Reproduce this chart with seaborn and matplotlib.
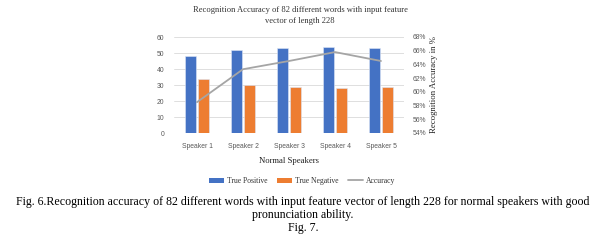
import numpy as np
import pandas as pd
import matplotlib
matplotlib.use("Agg")
import matplotlib.pyplot as plt
import seaborn as sns
from matplotlib.patches import Patch
from matplotlib.lines import Line2D
from matplotlib.ticker import PercentFormatter

speakers = ["Speaker 1", "Speaker 2", "Speaker 3", "Speaker 4", "Speaker 5"]
true_positive = [48, 52, 53, 54, 53]
true_negative = [34, 30, 29, 28, 29]
accuracy = [58.5, 63.3, 64.5, 65.8, 64.5]
left_ticks = [0, 10, 20, 30, 40, 50, 60]
right_ticks = [54, 56, 58, 60, 62, 64, 66, 68]

BLUE = "#4472C4"
ORANGE = "#ED7D31"
GRAY = "#A5A5A5"
SERIF = "Liberation Serif"
SANS = "Liberation Sans"

sns.set_theme(style="white")
plt.rcParams["font.family"] = [SANS, "DejaVu Sans"]

df = pd.DataFrame({
    "Speaker": speakers * 2,
    "Count": true_positive + true_negative,
    "Series": ["True Positive"] * len(speakers) + ["True Negative"] * len(speakers),
})

fig = plt.figure(figsize=(6.06, 2.40), dpi=100)
ax = fig.add_axes([174 / 606, 1 - 133 / 240, 230 / 606, 96 / 240])

sns.barplot(data=df, x="Speaker", y="Count", hue="Series",
            palette=[BLUE, ORANGE], saturation=1, width=0.57, gap=0.15,
            edgecolor="#DDE6F5", linewidth=0.4, ax=ax, legend=False, zorder=3)

ax.set_ylim(0, 60)
ax.set_yticks(left_ticks)
ax.set_xlim(-0.5, len(speakers) - 0.5)
ax.grid(axis="y", color="#D9D9D9", linewidth=0.6, zorder=0)
ax.set_axisbelow(True)
for s in ax.spines.values():
    s.set_visible(False)
ax.tick_params(axis="both", length=0, labelsize=4.9, colors="#595959")
ax.tick_params(axis="y", pad=7)
ax.tick_params(axis="x", pad=7.5)
ax.set_ylabel("")
ax.set_xlabel("Normal Speakers", fontfamily=SERIF, fontsize=6.2, labelpad=5, color="#222222")

ax2 = ax.twinx()
sns.lineplot(x=np.arange(len(speakers)), y=accuracy, ax=ax2, color=GRAY,
             linewidth=1.3, zorder=4)
ax2.set_ylim(54, 68)
ax2.set_yticks(right_ticks)
ax2.yaxis.set_major_formatter(PercentFormatter(decimals=0))
for s in ax2.spines.values():
    s.set_visible(False)
ax2.tick_params(axis="y", length=0, labelsize=4.9, colors="#595959", pad=6)
ax2.set_ylabel("Recognition Accuracy in %", fontfamily=SERIF, fontsize=6.3,
               color="#222222", labelpad=3)
ax2.grid(False)

# Title
fig.text(300 / 606, 1 - 10 / 240, "Recognition Accuracy of 82 different words with input feature",
         ha="center", va="center", fontfamily=SERIF, fontsize=6.1, color="#333333")
fig.text(300 / 606, 1 - 21 / 240, "vector of length 228",
         ha="center", va="center", fontfamily=SERIF, fontsize=6.1, color="#333333")

# Legend
handles = [Patch(facecolor=BLUE, edgecolor="none"),
           Patch(facecolor=ORANGE, edgecolor="none"),
           Line2D([0], [0], color=GRAY, linewidth=1.3)]
labels = ["True Positive", "True Negative", "Accuracy"]
leg = fig.legend(handles, labels, loc="center", bbox_to_anchor=(302 / 606, 1 - 181 / 240),
                 ncol=3, frameon=False, prop={"family": SERIF, "size": 5.5},
                 handlelength=2.0, handleheight=0.6, handletextpad=0.3, columnspacing=1.3)
for t in leg.get_texts():
    t.set_color("#333333")

# Caption
cap_kw = dict(ha="center", va="center", fontfamily=SERIF, fontsize=8.6, color="black")
fig.text(303 / 606, 1 - 202 / 240,
         "Fig. 6.Recognition accuracy of 82 different words with input feature vector of length 228 for normal speakers with good",
         **cap_kw)
fig.text(303 / 606, 1 - 215 / 240, "pronunciation ability.", **cap_kw)
fig.text(303 / 606, 1 - 228 / 240, "Fig. 7.", **cap_kw)

fig.savefig("out.png", dpi=100, facecolor="white")
